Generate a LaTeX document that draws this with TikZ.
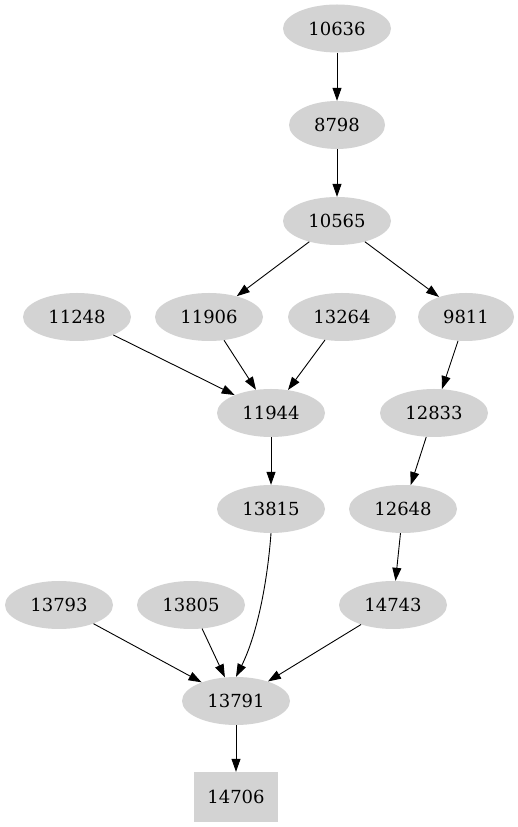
\documentclass[tikz,border=0pt]{standalone}
\usepackage{fontspec}
\setmainfont{DejaVu Serif}
\usetikzlibrary{shapes.geometric,arrows.meta}
\begin{document}
\begin{tikzpicture}[x=1pt,y=1pt,
  nd/.style={ellipse,fill={rgb,255:red,211;green,211;blue,211},minimum width=108pt,minimum height=48pt,inner sep=0pt,font=\fontsize{18}{20}\selectfont},
  sn/.style={nd,minimum width=96pt},
  bx/.style={rectangle,fill={rgb,255:red,211;green,211;blue,211},minimum width=84pt,minimum height=50pt,inner sep=0pt,font=\fontsize{18}{20}\selectfont},
  ar/.style={-{Triangle[length=13pt,width=9pt]},line width=0.9pt}]
\useasboundingbox (0,0) rectangle (517,827);
\node[nd] (n10636) at (337,798.5) {10636};
\node[sn] (n8798) at (337,702) {8798};
\node[nd] (n10565) at (337,606) {10565};
\node[nd] (n11248) at (77,510) {11248};
\node[nd] (n11906) at (209,510) {11906};
\node[nd] (n13264) at (342,510) {13264};
\node[sn] (n9811) at (466,510) {9811};
\node[nd] (n11944) at (271,414) {11944};
\node[nd] (n12833) at (434,414) {12833};
\node[nd] (n13815) at (271,318) {13815};
\node[nd] (n12648) at (403,318) {12648};
\node[nd] (n13793) at (59,222) {13793};
\node[nd] (n13805) at (191,222) {13805};
\node[nd] (n14743) at (393,222) {14743};
\node[nd] (n13791) at (236,126) {13791};
\node[bx] (n14706) at (236,30) {14706};
\draw[ar] (n10636) -- (n8798);
\draw[ar] (n8798) -- (n10565);
\draw[ar] (n10565) -- (n11906);
\draw[ar] (n10565) -- (n9811);
\draw[ar] (n11248) -- (n11944);
\draw[ar] (n11906) -- (n11944);
\draw[ar] (n13264) -- (n11944);
\draw[ar] (n9811) -- (n12833);
\draw[ar] (n11944) -- (n13815);
\draw[ar] (n12833) -- (n12648);
\draw[ar] (n12648) -- (n14743);
\draw[ar] (n13815.south) .. controls (267,240) and (256,190) .. (n13791.north);
\draw[ar] (n13793) -- (n13791);
\draw[ar] (n13805) -- (n13791);
\draw[ar] (n14743) -- (n13791);
\draw[ar] (n13791) -- (n14706);
\end{tikzpicture}
\end{document}
